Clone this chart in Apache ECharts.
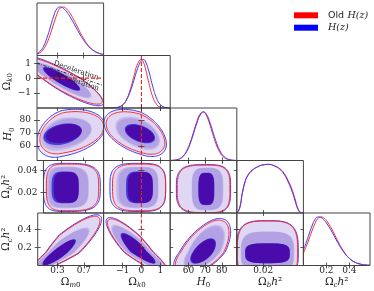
<!DOCTYPE html>
<html>
<head>
<meta charset="utf-8">
<script src="https://cdn.jsdelivr.net/npm/echarts@6/dist/echarts.min.js"></script>
<style>
html, body { margin: 0; padding: 0; background: #fff; }
#main { width: 374px; height: 291px; }
</style>
</head>
<body>
<div id="main"></div>
<script>
// parameters: Ωm0, Ωk0, H0, Ωbh², Ωch²
var paramNames = ['{o|Ω}{si|m}{s|0}', '{o|Ω}{si|k}{s|0}', '{i|H}{s|0}', '{o|Ω}{si|b}{i|h}{o|²}', '{o|Ω}{si|c}{i|h}{o|²}'];
var axisMin = [0, -2, 49, 0.001, 0];
var axisMax = [1, 1.52, 89, 0.049, 0.58];
var xTickVals = [[0.3, 0.7], [-1, 0, 1], [60, 70, 80], [0.02], [0.2, 0.4]];
var yTickVals = [[], [-1, 0, 1], [60, 70, 80], [0.02, 0.04], [0.2, 0.4]];
var yNameGap = [0, 20, 18, 21.5, 21.5];

// 1D marginals (normalised to peak 1)
var omX = [0, 0.05, 0.1, 0.15, 0.2, 0.25, 0.3, 0.35, 0.4, 0.45, 0.5, 0.55, 0.6, 0.65, 0.7, 0.75, 0.8, 0.85, 0.9, 0.95, 1.0];
var omBlue = [0.036, 0.09, 0.195, 0.363, 0.583, 0.808, 0.964, 0.998, 0.964, 0.891, 0.789, 0.669, 0.544, 0.423, 0.315, 0.224, 0.153, 0.1, 0.063, 0.037, 0.022];
var omRed = [0.025, 0.062, 0.135, 0.259, 0.437, 0.65, 0.849, 0.977, 0.996, 0.951, 0.862, 0.742, 0.607, 0.471, 0.347, 0.243, 0.162, 0.102, 0.061, 0.035, 0.019];

var okX = [-2, -1.8, -1.6, -1.4, -1.2, -1, -0.8, -0.6, -0.4, -0.2, 0, 0.1, 0.2, 0.4, 0.6, 0.8, 1, 1.2, 1.4, 1.52];
var okBlue = [0, 0, 0.001, 0.006, 0.022, 0.065, 0.16, 0.33, 0.568, 0.816, 0.978, 1.0, 0.968, 0.744, 0.44, 0.2, 0.07, 0.019, 0.004, 0.001];
var okRed = [0, 0, 0.001, 0.004, 0.016, 0.057, 0.164, 0.368, 0.651, 0.908, 0.998, 0.946, 0.83, 0.506, 0.227, 0.075, 0.018, 0.003, 0, 0];

var h0X = [49, 51, 53, 55, 57, 59, 61, 63, 65, 67, 69, 71, 73, 75, 77, 79, 81, 83, 85, 87, 89];
var h0Blue = [0.001, 0.005, 0.015, 0.039, 0.093, 0.191, 0.347, 0.551, 0.768, 0.936, 1.0, 0.936, 0.768, 0.551, 0.347, 0.191, 0.093, 0.039, 0.015, 0.005, 0.001];
var h0Red = [0.001, 0.005, 0.015, 0.042, 0.1, 0.206, 0.371, 0.584, 0.801, 0.957, 0.997, 0.906, 0.718, 0.495, 0.298, 0.157, 0.072, 0.029, 0.01, 0.003, 0.001];

var obX = [0.001, 0.003, 0.005, 0.007, 0.009, 0.012, 0.016, 0.02, 0.024, 0.028, 0.032, 0.035, 0.038, 0.041, 0.043, 0.045, 0.047, 0.049];
var obBlue = [0.0, 0.1, 0.42, 0.65, 0.78, 0.88, 0.95, 0.99, 1.0, 0.97, 0.9, 0.8, 0.64, 0.43, 0.25, 0.08, 0.01, 0.0];
var obRed = [0.0, 0.09, 0.4, 0.64, 0.77, 0.87, 0.95, 0.99, 1.0, 0.97, 0.91, 0.82, 0.67, 0.47, 0.29, 0.1, 0.015, 0.0];

var ocX = [0, 0.025, 0.05, 0.075, 0.1, 0.125, 0.15, 0.175, 0.2, 0.25, 0.3, 0.35, 0.4, 0.45, 0.5, 0.55, 0.58];
var ocBlue = [0.32, 0.474, 0.649, 0.815, 0.941, 0.998, 0.99, 0.948, 0.879, 0.685, 0.468, 0.281, 0.147, 0.068, 0.028, 0.01, 0.005];
var ocRed = [0.26, 0.392, 0.55, 0.714, 0.861, 0.963, 1.0, 0.981, 0.927, 0.737, 0.503, 0.295, 0.148, 0.064, 0.024, 0.008, 0.004];

var marg1D = [[omX, omBlue, omRed], [okX, okBlue, okRed], [h0X, h0Blue, h0Red], [obX, obBlue, obRed], [ocX, ocBlue, ocRed]];

// 2D contours: [x param, y param]
var pairs = [[0, 1], [0, 2], [1, 2], [0, 3], [1, 3], [2, 3], [0, 4], [1, 4], [2, 4], [3, 4]];
var centers = [[0.37, -0.05], [0.38, 69.2], [-0.08, 69.5], [0.36, 0.0244], [-0.115, 0.0244], [70.7, 0.023], [0.33, 0.14], [-0.1, 0.15], [69, 0.15], [0.0231, 0.135]];
var rhos = [-0.88, 0.3, -0.45, 0, 0, 0, 0.88, -0.88, 0.6, 0];
var shapes = [2, 2, 2, 3.5, 3.5, 3.5, 2, 2, 2, 3.5];
// half extents [x low, x high, y low, y high]
var innerExt = [[0.28, 0.28, 0.8, 0.8], [0.285, 0.29, 8.4, 8.1], [0.8, 0.8, 7.4, 7.3], [0.225, 0.225, 0.0145, 0.0145], [0.7, 0.7, 0.0145, 0.0145],
  [4.8, 4.8, 0.0148, 0.0148], [0.26, 0.25, 0.14, 0.15], [1.0, 0.85, 0.13, 0.21], [8, 7.5, 0.13, 0.15], [0.0162, 0.0162, 0.11, 0.11]];
var midExt = [[0.45, 0.45, 1.3, 1.15], [0.32, 0.44, 12.7, 12.7], [1.3, 1.06, 12.5, 12.9], [0.32, 0.395, 0.019, 0.019], [1.22, 1.0, 0.019, 0.019],
  [8.8, 10.2, 0.0195, 0.0195], [0.38, 0.46, 0.2, 0.28], [1.5, 1.3, 0.2, 0.3], [12, 12.9, 0.2, 0.3], [0.0193, 0.0193, 0.2, 0.24]];
var outerExt = [[0.6, 0.63, 1.8, 1.55], [0.38, 0.64, 17.8, 18.8], [1.9, 1.4, 17.5, 18.5], [0.36, 0.585, 0.022, 0.022], [1.55, 1.4, 0.022, 0.022],
  [18, 14.6, 0.0222, 0.0222], [0.45, 0.64, 0.25, 0.42], [1.77, 1.52, 0.25, 0.38], [18, 16.3, 0.25, 0.37], [0.0222, 0.0222, 0.25, 0.36]];
var redShift = [[0, 0], [0.02, 0.5], [0, 0], [0.02, 0], [0.06, 0], [0, 0], [0, 0], [0, 0], [0, 0], [0, 0]];
var redScale = [[0.97, 0.94], [0.94, 0.88], [0.94, 0.9], [0.92, 0.97], [0.95, 0.97], [0.97, 0.98], [0.96, 0.96], [0.96, 0.96], [0.94, 0.95], [0.98, 0.99]];

var decelLine = [[0, 1], [1, -0.5]];
var decelText = ['Deceleration', 'Acceleration'];
var decelTextPos = [[0.586, 0.514], [0.6, -0.22]];

var blueFill = ['rgba(120,90,205,0.13)', 'rgba(120,90,205,0.24)', 'rgba(50,40,215,0.85)'];
var redFill = ['rgba(120,90,205,0.13)', 'rgba(120,90,205,0.24)', 'rgba(75,0,160,0.8)'];
var redCol = '#ff2a2a', blueCol = '#3a3aff';

var left0 = 37, top0 = 3, cellW = 66.6, cellH = 52.5, peakTop = 1.08;
var serif = 'DejaVu Serif';

var nameRich = {
  o: { fontFamily: serif, fontSize: 10.5, lineHeight: 14, verticalAlign: 'middle', color: '#222' },
  i: { fontFamily: serif, fontStyle: 'italic', fontSize: 10.5, lineHeight: 14, verticalAlign: 'middle', color: '#222' },
  s: { fontFamily: serif, fontSize: 7, lineHeight: 8, verticalAlign: 'bottom', color: '#222' },
  si: { fontFamily: serif, fontStyle: 'italic', fontSize: 7, lineHeight: 8, verticalAlign: 'bottom', color: '#222' }
};

function fmt(v) { return v < 0 ? '\u2212' + Math.abs(v) : String(v); }

function gid(r, c) { return r * (r + 1) / 2 + c; }

function makeAxis(kind, p, g, pos, withLabel) {
  var ticks = kind === 'x' ? xTickVals[p] : yTickVals[p];
  return {
    type: 'value', gridIndex: g, position: pos, min: axisMin[p], max: axisMax[p], z: 6,
    axisLine: { show: false }, splitLine: { show: false },
    axisTick: { show: ticks.length > 0, inside: true, length: 3, customValues: ticks, lineStyle: { color: '#333', width: 0.8 } },
    axisLabel: { show: withLabel, customValues: ticks, formatter: fmt, fontFamily: serif, fontSize: 9, color: '#222', margin: kind === 'x' ? 1 : 6 },
    name: withLabel ? paramNames[p] : '',
    nameLocation: 'middle',
    nameGap: kind === 'x' ? 9 : yNameGap[p],
    nameRotate: kind === 'x' ? 0 : 90,
    nameTextStyle: { rich: nameRich }
  };
}

var grids = [], xAxes = [], yAxes = [], series = [];
for (var r = 0; r < 5; r++) {
  for (var c = 0; c <= r; c++) {
    var g = grids.length;
    grids.push({
      left: left0 + c * cellW, top: top0 + r * cellH, width: cellW, height: cellH,
      show: true, z: 5, borderColor: '#444', borderWidth: 1, backgroundColor: 'transparent'
    });
    xAxes.push(makeAxis('x', c, g, 'bottom', r === 4));
    xAxes.push(makeAxis('x', c, g, 'top', false));
    if (r === c) {
      yAxes.push({ type: 'value', gridIndex: g, position: 'left', min: 0, max: peakTop, show: false });
      yAxes.push({ type: 'value', gridIndex: g, position: 'right', min: 0, max: peakTop, show: false });
    } else {
      yAxes.push(makeAxis('y', r, g, 'left', c === 0));
      yAxes.push(makeAxis('y', r, g, 'right', false));
    }
  }
}

function shapePoints(api, cen, ext, rho, p) {
  var pts = [], n = 120, q = Math.sqrt(1 - rho * rho);
  for (var k = 0; k < n; k++) {
    var t = 2 * Math.PI * k / n;
    var ct = Math.cos(t), st = Math.sin(t);
    var u = (ct < 0 ? -1 : 1) * Math.pow(Math.abs(ct), 2 / p);
    var v = (st < 0 ? -1 : 1) * Math.pow(Math.abs(st), 2 / p);
    var b = rho * u + q * v;
    var x = cen[0] + u * (u < 0 ? ext[0] : ext[1]);
    var y = cen[1] + b * (b < 0 ? ext[2] : ext[3]);
    pts.push(api.coord([x, y]));
  }
  return pts;
}

function scaled(ext, s) { return [ext[0] * s[0], ext[1] * s[0], ext[2] * s[1], ext[3] * s[1]]; }

function panelRenderer(k) {
  return function (params, api) {
    var cB = centers[k];
    var cR = [cB[0] + redShift[k][0], cB[1] + redShift[k][1]];
    var levels = [outerExt[k], midExt[k], innerExt[k]];
    var kids = [];
    for (var L = 0; L < 3; L++) {
      kids.push({ type: 'polygon', shape: { points: shapePoints(api, cB, levels[L], rhos[k], shapes[k]) }, style: { fill: blueFill[L] } });
      kids.push({ type: 'polygon', shape: { points: shapePoints(api, cR, scaled(levels[L], redScale[k]), rhos[k], shapes[k]) }, style: { fill: redFill[L] } });
    }
    kids.push({ type: 'polygon', shape: { points: shapePoints(api, cB, levels[0], rhos[k], shapes[k]) }, style: { fill: 'none', stroke: blueCol, lineWidth: 1 } });
    kids.push({ type: 'polygon', shape: { points: shapePoints(api, cR, scaled(levels[0], redScale[k]), rhos[k], shapes[k]) }, style: { fill: 'none', stroke: redCol, lineWidth: 1 } });
    return { type: 'group', children: kids };
  };
}

// 2D panels
pairs.forEach(function (pr, k) {
  var g = gid(pr[1], pr[0]);
  series.push({
    type: 'custom', xAxisIndex: 2 * g, yAxisIndex: 2 * g, clip: true, silent: true, z: 2,
    data: [centers[k]],
    renderItem: panelRenderer(k)
  });
});

// 1D panels
marg1D.forEach(function (m, p) {
  var g = gid(p, p);
  [[m[2], 'Old H(z)', redCol], [m[1], 'H(z)', blueCol]].forEach(function (s) {
    series.push({
      type: 'line', name: s[1], xAxisIndex: 2 * g, yAxisIndex: 2 * g, z: 3,
      data: m[0].map(function (x, i) { return [x, s[0][i]]; }),
      smooth: 0.5, showSymbol: false, silent: true,
      itemStyle: { color: s[2] },
      lineStyle: { color: s[2], width: 1 }
    });
  });
});

// Ωk0 = 0 reference lines
var zeroStyle = { color: '#ff2020', width: 1.1, type: [4, 2] };
for (var rr = 1; rr < 5; rr++) {
  var gz = gid(rr, 1);
  var y0 = rr === 1 ? 0 : axisMin[rr], y1 = rr === 1 ? peakTop : axisMax[rr];
  series.push({ type: 'line', xAxisIndex: 2 * gz, yAxisIndex: 2 * gz, data: [[0, y0], [0, y1]], showSymbol: false, silent: true, z: 4, lineStyle: zeroStyle });
}
series.push({ type: 'line', xAxisIndex: 2 * gid(1, 0), yAxisIndex: 2 * gid(1, 0), data: [[axisMin[0], 0], [axisMax[0], 0]], showSymbol: false, silent: true, z: 4, lineStyle: zeroStyle });

// deceleration / acceleration boundary
var gA = gid(1, 0);
series.push({
  type: 'line', xAxisIndex: 2 * gA, yAxisIndex: 2 * gA, data: decelLine, showSymbol: false, silent: true, z: 4,
  lineStyle: { color: '#222', width: 0.9, type: [3, 1.5, 1, 1.5] }
});
series.push({
  type: 'custom', xAxisIndex: 2 * gA, yAxisIndex: 2 * gA, silent: true, z: 4,
  data: decelTextPos.map(function (d, i) { return [d[0], d[1], i]; }),
  renderItem: function (params, api) {
    var p0 = api.coord(decelLine[0]), p1 = api.coord(decelLine[1]);
    var ang = -Math.atan2(p1[1] - p0[1], p1[0] - p0[0]);
    var pt = api.coord([api.value(0), api.value(1)]);
    return {
      type: 'text', x: pt[0], y: pt[1], rotation: ang,
      style: { text: decelText[api.value(2)], fontFamily: serif, fontSize: 7.2, fill: '#222', align: 'center', verticalAlign: 'middle' }
    };
  }
});

var chart = echarts.init(document.getElementById('main'));
chart.setOption({
  animation: false,
  backgroundColor: '#fff',
  legend: {
    left: 289, top: 4.3, orient: 'vertical', itemWidth: 24, itemHeight: 6, itemGap: 1.4, icon: 'rect',
    selectedMode: false,
    data: [{ name: 'Old H(z)', itemStyle: { color: '#ff0000' } }, { name: 'H(z)', itemStyle: { color: '#0000ff' } }],
    formatter: function (n) { return n === 'H(z)' ? '{m|H(z)}' : '{a|Old} {m|H(z)}'; },
    textStyle: {
      padding: [0, 0, 0, 5],
      rich: {
        a: { fontFamily: 'DejaVu Sans', fontSize: 9.5, lineHeight: 12, color: '#222' },
        m: { fontFamily: serif, fontStyle: 'italic', fontSize: 9.5, lineHeight: 12, color: '#222' }
      }
    }
  },
  grid: grids,
  xAxis: xAxes,
  yAxis: yAxes,
  series: series
});
</script>
</body>
</html>
